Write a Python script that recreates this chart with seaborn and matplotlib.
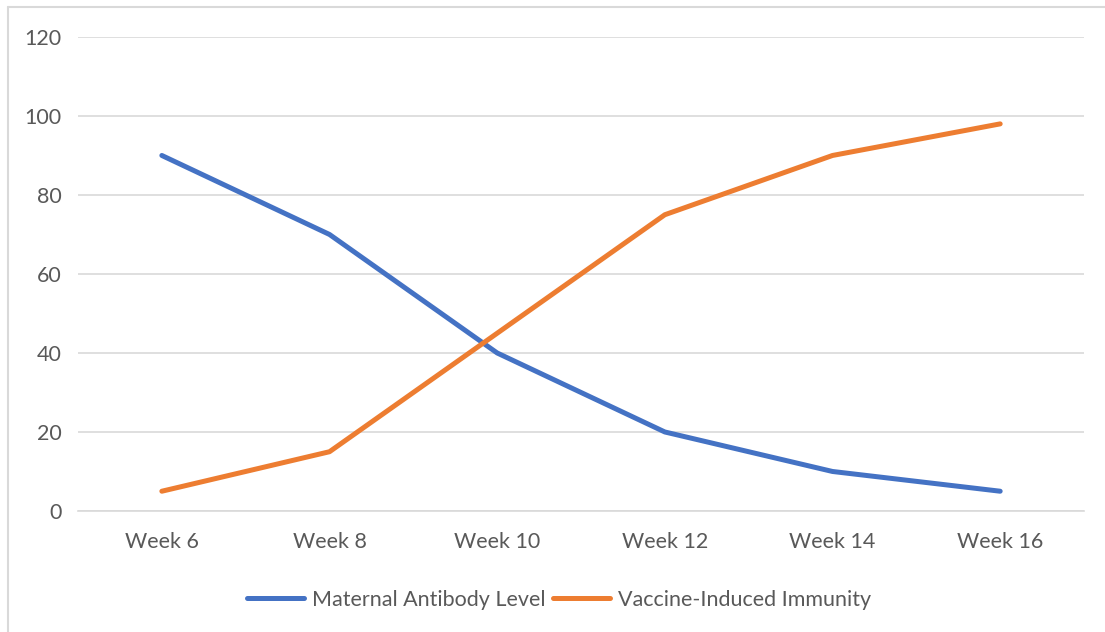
import pandas as pd
import seaborn as sns
import matplotlib.pyplot as plt
from matplotlib.lines import Line2D

weeks = ["Week 6", "Week 8", "Week 10", "Week 12", "Week 14", "Week 16"]
maternal = [90, 70, 40, 20, 10, 5]
vaccine = [5, 15, 45, 75, 90, 98]
series_names = ["Maternal Antibody Level", "Vaccine-Induced Immunity"]
colors = ["#4472C4", "#ED7D31"]

df = pd.DataFrame({"Week": weeks, series_names[0]: maternal, series_names[1]: vaccine})
long_df = df.melt(id_vars="Week", var_name="Series", value_name="Value")

sns.set_theme(style="white")
plt.rcParams["font.family"] = ["Lato", "DejaVu Sans"]

fig = plt.figure(figsize=(11.05, 6.32), dpi=100)
ax = fig.add_axes([0.0706, 0.1915, 0.9104, 0.75])

sns.lineplot(data=long_df, x="Week", y="Value", hue="Series", palette=colors,
             linewidth=3.6, sort=False, ax=ax, legend=False)
for line in ax.get_lines():
    line.set_solid_capstyle("round")

ax.set_xlim(-0.5, len(weeks) - 0.5)
ax.set_ylim(0, 120)
ax.set_yticks(range(0, 121, 20))
ax.grid(axis="y", color="#D9D9D9", linewidth=1.2)
ax.set_axisbelow(True)
for side in ["top", "right", "left"]:
    ax.spines[side].set_visible(False)
ax.spines["bottom"].set_color("#D9D9D9")
ax.spines["bottom"].set_linewidth(1.2)
ax.tick_params(axis="both", length=0, labelsize=15.5, labelcolor="#595959")
ax.tick_params(axis="y", pad=12)
ax.tick_params(axis="x", pad=15)
ax.set_xlabel("")
ax.set_ylabel("")

handles = [Line2D([0], [0], color=c, linewidth=3.6, solid_capstyle="round") for c in colors]
fig.legend(handles, series_names, loc="center", bbox_to_anchor=(0.506, 0.051), ncol=2,
           frameon=False, fontsize=15.5, labelcolor="#595959", handlelength=2.65,
           handletextpad=0.37, columnspacing=0.37)

# light frame around the chart (only top and left visible in the crop)
fig.add_artist(Line2D([0.0068, 0.0068], [0, 0.989], transform=fig.transFigure, color="#D9D9D9", linewidth=1.5))
fig.add_artist(Line2D([0.0068, 1], [0.989, 0.989], transform=fig.transFigure, color="#D9D9D9", linewidth=1.5))

fig.savefig("out.png", dpi=100)
